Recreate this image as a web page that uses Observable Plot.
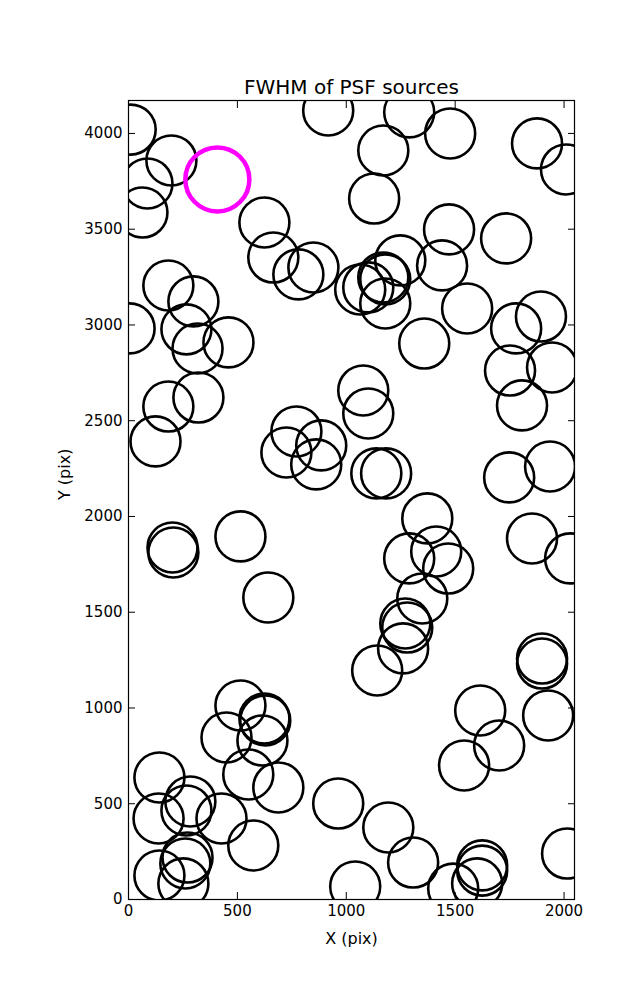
<!DOCTYPE html>
<html>
<head>
<meta charset="utf-8">
<script src="https://cdn.jsdelivr.net/npm/d3@7"></script>
<script src="https://cdn.jsdelivr.net/npm/@observablehq/plot@0.6"></script>
<style>
  html, body { margin: 0; padding: 0; background: #fff; }
  svg { display: block; }
</style>
</head>
<body>
<div id="chart"></div>
<script>
// Source positions (pixels on detector)
const srcX = [10, 197, 87, 64, 624, 665, 780, 849, 183, 298, 5, 266, 317, 459,
  917, 1289, 1477, 1170, 1128, 1876, 2009, 1472, 1734, 1248, 1440,
  1064, 1101, 1170, 1179, 1179, 1555, 1358, 1780, 1894, 1752, 1945, 1078, 1101,
  124, 183, 321, 771, 725, 885, 862, 202, 206, 514, 642, 1138, 1183,
  1807, 1748, 1936, 1372, 1289, 1413, 1468, 1349, 1280, 1271, 1261, 1853, 2028,
  514, 624, 628, 450, 615, 550, 688, 142, 284, 266, 138, 427, 573, 271, 261, 142, 252,
  963, 1041, 1142, 1899, 1899, 1927, 1615, 1702, 1541, 1193, 1307, 1491, 1624, 1624, 1601, 2014];
const srcY = [4020, 3859, 3739, 3587, 3535, 3352, 3264, 3300, 3206, 3123, 2982, 2977, 2877, 2909,
  4120, 4110, 4000, 3911, 3660, 3948, 3812, 3499, 3452, 3337, 3311,
  3185, 3196, 3248, 3238, 3112, 3086, 2903, 2982, 3044, 2762, 2778, 2658, 2538,
  2392, 2574, 2621, 2444, 2334, 2371, 2272, 1838, 1812, 1896, 1577, 2225, 2225,
  2580, 2204, 2261, 1990, 1781, 1817, 1728, 1572, 1420, 1441, 1311, 1885, 1781,
  1013, 945, 935, 846, 830, 653, 585, 637, 512, 465, 423, 423, 282, 219, 188, 125, 84,
  501, 68, 1196, 1258, 1232, 961, 987, 804, 700, 376, 193, 57, 178, 151, 84, 240];
// Highlighted source
const hiX = [408];
const hiY = [3760];
// Axis ticks
const xTicks = [0, 500, 1000, 1500, 2000];
const yTicks = [0, 500, 1000, 1500, 2000, 2500, 3000, 3500, 4000];
const xDomain = [0, 2048];
const yDomain = [0, 4172];

const sources = srcX.map((x, i) => ({x, y: srcY[i]}));
const highlight = hiX.map((x, i) => ({x, y: hiY[i]}));

const font = "DejaVu Sans";
const chart = Plot.plot({
  width: 637,
  height: 1000,
  marginLeft: 128,
  marginRight: 63,
  marginTop: 100,
  marginBottom: 101,
  style: {fontFamily: font, fontSize: "15px", color: "black", background: "white"},
  x: {domain: xDomain, axis: null},
  y: {domain: yDomain, axis: null},
  marks: [
    Plot.dot(sources, {x: "x", y: "y", r: 25, stroke: "black", strokeWidth: 2.6, fill: "none", clip: true}),
    Plot.dot(highlight, {x: "x", y: "y", r: 32, stroke: "#ff00ff", strokeWidth: 4.5, fill: "none", clip: true}),
    Plot.frame({stroke: "black", strokeWidth: 1.2}),
    // inward ticks on all sides
    Plot.axisX(xTicks, {anchor: "bottom", tickSize: -7, tickFormat: () => "", label: null}),
    Plot.axisX(xTicks, {anchor: "top", tickSize: -7, tickFormat: () => "", label: null}),
    Plot.axisY(yTicks, {anchor: "left", tickSize: -7, tickFormat: () => "", label: null}),
    Plot.axisY(yTicks, {anchor: "right", tickSize: -7, tickFormat: () => "", label: null}),
    // tick labels
    Plot.axisX(xTicks, {anchor: "bottom", tickSize: 0, tickPadding: 6, tickFormat: d => String(d), label: null, fontSize: 15}),
    Plot.axisY(yTicks, {anchor: "left", tickSize: 0, tickPadding: 6, tickFormat: d => String(d), label: null, fontSize: 15}),
    // axis titles and chart title
    Plot.text(["X (pix)"], {text: d => d, frameAnchor: "bottom", dy: 39, lineAnchor: "middle", fontSize: 16}),
    Plot.text(["Y (pix)"], {text: d => d, frameAnchor: "left", dx: -64, rotate: -90, lineAnchor: "middle", fontSize: 16}),
    Plot.text(["FWHM of PSF sources"], {text: d => d, frameAnchor: "top", dy: -7, lineAnchor: "bottom", fontSize: 20})
  ]
});
document.getElementById("chart").appendChild(chart);
</script>
</body>
</html>
